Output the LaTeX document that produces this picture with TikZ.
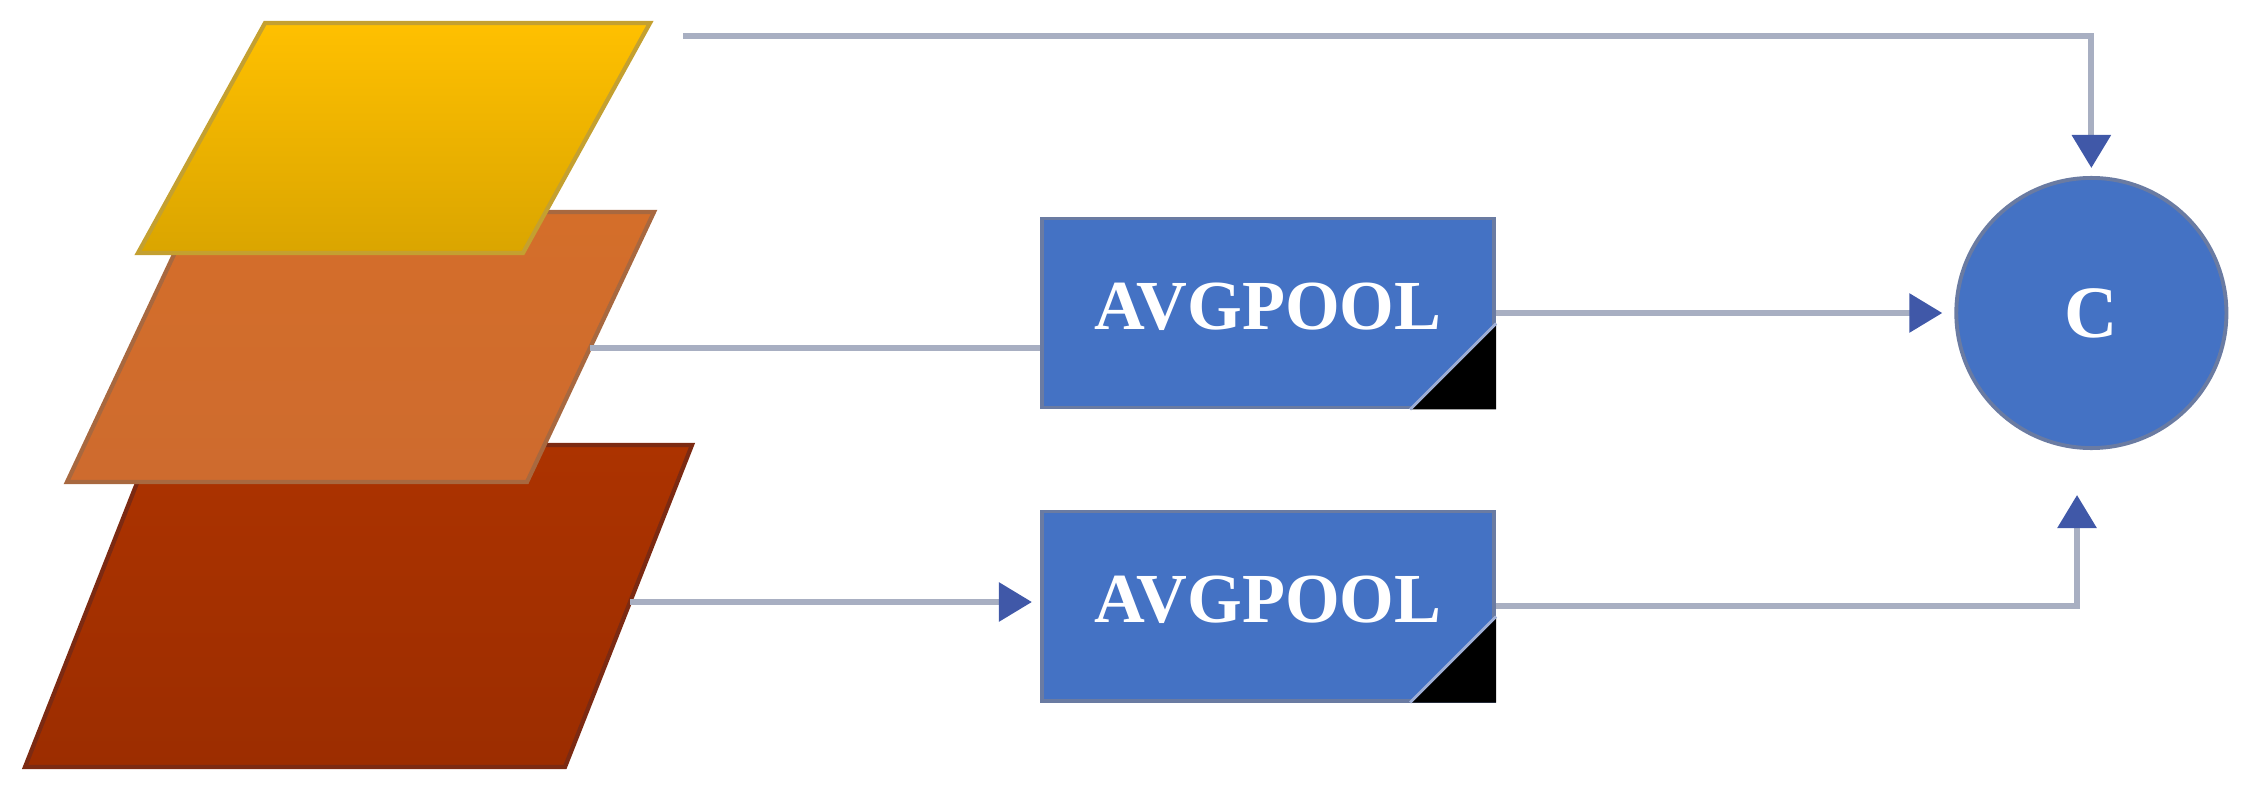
\documentclass[tikz,border=0pt]{standalone}
\usepackage{fontspec}
\setmainfont{Liberation Serif}[BoldFont={Liberation Serif Bold}]
\usetikzlibrary{arrows.meta,positioning}
\definecolor{boxblue}{HTML}{4472C4}
\definecolor{boxedge}{HTML}{6A7BA2}
\definecolor{linegray}{HTML}{A8AFC2}
\definecolor{tipblue}{HTML}{4058A8}
\definecolor{foldedge}{HTML}{9EAED6}
\definecolor{yeltop}{HTML}{FFC000}
\definecolor{yelbot}{HTML}{DAA500}
\definecolor{yeledge}{HTML}{C4A030}
\definecolor{orgtop}{HTML}{D46E2A}
\definecolor{orgbot}{HTML}{CE6B2E}
\definecolor{orgedge}{HTML}{A8683F}
\definecolor{redtop}{HTML}{AC3300}
\definecolor{redbot}{HTML}{9C2D00}
\definecolor{rededge}{HTML}{7C2A12}
\tikzset{
  poolbox/.style = {rectangle, draw=boxedge, line width=1.1pt, fill=boxblue,
    minimum width=4.52cm, minimum height=1.89cm, inner sep=0pt, text=white,
    text depth=0.14cm, font=\bfseries\fontsize{20}{24}\selectfont},% boite avgpool
  catnode/.style = {circle, draw=boxedge, line width=1.1pt, fill=boxblue,
    minimum size=2.7cm, inner sep=0pt, text=white,
    font=\bfseries\fontsize{21}{25}\selectfont},% noeud de concat
  plainlink/.style = {draw=linegray, line width=1.7pt},% trait simple
  link/.style = {plainlink,
    -{Triangle[length=0.33cm, width=0.38cm, color=tipblue]}},% trait avec fleche
  layer/.style = {draw=#1, line width=1.2pt}% couche
}
\begin{document}
\begin{tikzpicture}[x=0.01cm, y=-0.01cm]
        \useasboundingbox (0,0) rectangle (2246,785);

        % couches, du bas vers le haut
        \filldraw[layer=rededge, top color=redtop, bottom color=redbot]
          (152,445) -- (692,445) -- (565,767) -- (25,767) -- cycle;
        \filldraw[layer=orgedge, top color=orgtop, bottom color=orgbot]
          (194,212) -- (654,212) -- (527,482) -- (67,482) -- cycle;
        \filldraw[layer=yeledge, top color=yeltop, bottom color=yelbot]
          (265,23) -- (650,23) -- (523,253) -- (138,253) -- cycle;

        \coordinate (ytop) at (683,36);
        \coordinate (omid) at (590,348);
        \coordinate (rbot) at (630,602);

        \node [poolbox] (P1) at (1268,313) {AVGPOOL};
        \node [poolbox, below= 1cm of P1] (P2) {AVGPOOL};
        \node [catnode, right= 4.58cm of P1] (C) {C};
        \coordinate (cin) at (2077,495);

        \foreach \b in {P1,P2}{
          \fill[black] (\b.south east) -- ++(0,-86) -- ++(-86,86) -- cycle;
          \draw[foldedge, line width=0.8pt] (\b.south east) ++(0,-86) -- ++(-86,86);
        }

        \draw [link, shorten >=0.08cm] (ytop) -| (C.north);
        \draw [plainlink] (omid) -- (omid -| P1.west);
        \draw [link, shorten >=0.12cm] (P1.east) -- (C.west);
        \draw [link, shorten >=0.08cm] (rbot) -- (rbot -| P2.west);
        \draw [link] (P2.east) -| (cin);

\end{tikzpicture}
\end{document}
